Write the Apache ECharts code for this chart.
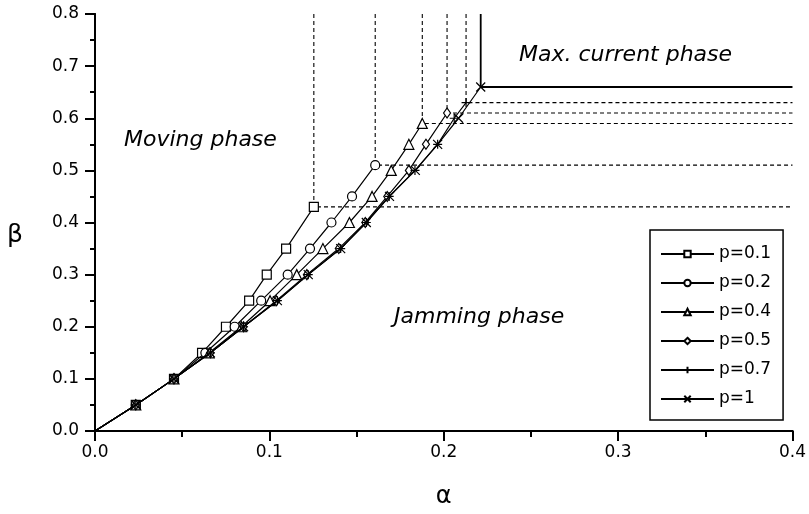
<!DOCTYPE html>
<html lang="en">
<head>
    <meta charset="utf-8">
    <title>Phase diagram</title>
    <script src="https://cdn.jsdelivr.net/npm/echarts@6.0.0/dist/echarts.min.js"></script>
    <style>
        html, body { margin: 0; padding: 0; background: #fff; }
        #chart { width: 809px; height: 514px; }
    </style>
</head>
<body>
    <div id="chart"></div>
    <script>
        // series names
        const names = ['p=0.1', 'p=0.2', 'p=0.4', 'p=0.5', 'p=0.7', 'p=1'];

        // beta / alpha values, one pair of arrays per p
        const betaP01 = [0, 0.05, 0.1, 0.15, 0.2, 0.25, 0.3, 0.35, 0.43];
        const alphaP01 = [0, 0.0234, 0.0453, 0.0614, 0.0751, 0.0884, 0.0985, 0.1096, 0.1255];

        const betaP02 = [0, 0.05, 0.1, 0.15, 0.2, 0.25, 0.3, 0.35, 0.4, 0.45, 0.51];
        const alphaP02 = [0, 0.0234, 0.0453, 0.0633, 0.0801, 0.0953, 0.1105, 0.1233, 0.1356, 0.1474, 0.1607];

        const betaP04 = [0, 0.05, 0.1, 0.15, 0.2, 0.25, 0.3, 0.35, 0.4, 0.45, 0.5, 0.55, 0.59];
        const alphaP04 = [0, 0.0234, 0.0453, 0.0655, 0.0840, 0.1004, 0.1157, 0.1307, 0.1459, 0.1589, 0.1699, 0.1800, 0.1877];

        const betaP05 = [0, 0.05, 0.1, 0.15, 0.2, 0.25, 0.3, 0.35, 0.4, 0.45, 0.5, 0.55, 0.61];
        const alphaP05 = [0, 0.0234, 0.0453, 0.0662, 0.0852, 0.1040, 0.1215, 0.1398, 0.1550, 0.1676, 0.1800, 0.1898, 0.2019];

        const betaP07 = [0, 0.05, 0.1, 0.15, 0.2, 0.25, 0.3, 0.35, 0.4, 0.45, 0.5, 0.55, 0.6, 0.63];
        const alphaP07 = [0, 0.0234, 0.0453, 0.0662, 0.0852, 0.1046, 0.1223, 0.1409, 0.1556, 0.1687, 0.1835, 0.1965, 0.2060, 0.2128];

        const betaP1 = [0, 0.05, 0.1, 0.15, 0.2, 0.25, 0.3, 0.35, 0.4, 0.45, 0.5, 0.55, 0.6, 0.66];
        const alphaP1 = [0, 0.0234, 0.0453, 0.0662, 0.0852, 0.1046, 0.1223, 0.1409, 0.1556, 0.1689, 0.1837, 0.1965, 0.2085, 0.2212];

        const xTicks = [0, 0.1, 0.2, 0.3, 0.4];
        const yTicks = [0, 0.1, 0.2, 0.3, 0.4, 0.5, 0.6, 0.7, 0.8];

        const betas = [betaP01, betaP02, betaP04, betaP05, betaP07, betaP1];
        const alphas = [alphaP01, alphaP02, alphaP04, alphaP05, alphaP07, alphaP1];

        const symbols = [
            'rect',
            'circle',
            'triangle',
            'diamond',
            'path://M5,0L5,10M0,5L10,5',
            'path://M0,0L10,10M10,0L0,10'
        ];
        const symbolSizes = [9, 9, 10, [7, 10], 9, 9];

        const font = 'DejaVu Sans';
        const xMax = xTicks[xTicks.length - 1];
        const yMax = yTicks[yTicks.length - 1];

        const chart = echarts.init(document.getElementById('chart'), null, { renderer: 'canvas' });

        // phase boundaries: from the last point of each curve up to the top and across to the right
        const boundarySeries = names.map((n, i) => {
            const a = alphas[i][alphas[i].length - 1];
            const b = betas[i][betas[i].length - 1];
            const solid = i === names.length - 1;
            return {
                type: 'line',
                data: [[a, yMax], [a, b], [xMax, b]],
                symbol: 'none',
                silent: true,
                z: 1,
                lineStyle: {
                    color: '#000',
                    width: solid ? 1.8 : 1.1,
                    type: solid ? 'solid' : [4, 3]
                }
            };
        });

        const curveSeries = names.map((n, i) => ({
            name: n,
            type: 'line',
            symbol: symbols[i],
            symbolSize: symbolSizes[i],
            z: 3 + i,
            data: alphas[i].map((a, k) => {
                const item = { value: [a, betas[i][k]] };
                if (a === 0) item.symbol = 'none';
                return item;
            }),
            lineStyle: { color: '#000', width: 1.2 },
            itemStyle: { color: '#fff', borderColor: '#000', borderWidth: 1.2 },
            emphasis: { disabled: true }
        }));

        const tickLabel = v => v.toFixed(1);

        const option = {
            animation: false,
            backgroundColor: '#fff',
            grid: { left: 95, right: 12, top: 14, bottom: 77 },
            xAxis: [{
                type: 'value',
                min: xTicks[0],
                max: xMax,
                interval: 0.1,
                name: 'α',
                nameLocation: 'middle',
                nameGap: 54,
                nameTextStyle: { fontFamily: font, fontSize: 24, color: '#000' },
                axisLine: { lineStyle: { color: '#000', width: 2 } },
                axisTick: { length: 10, lineStyle: { color: '#000', width: 2 } },
                minorTick: { show: true, splitNumber: 2, length: 6, lineStyle: { color: '#000', width: 2 } },
                axisLabel: { formatter: tickLabel, fontFamily: font, fontSize: 17, color: '#000', margin: 13 },
                splitLine: { show: false }
            }, {
                type: 'value',
                position: 'top',
                min: xTicks[0],
                max: xMax,
                interval: 0.1,
                axisLine: { lineStyle: { color: '#000', width: 2 } },
                axisTick: { inside: true, length: 9, lineStyle: { color: '#000', width: 2 } },
                minorTick: { show: true, splitNumber: 2, length: 5, lineStyle: { color: '#000', width: 2 } },
                axisLabel: { show: false },
                splitLine: { show: false }
            }],
            yAxis: [{
                type: 'value',
                min: yTicks[0],
                max: yMax,
                interval: 0.1,
                name: 'β',
                nameLocation: 'middle',
                nameRotate: 0,
                nameGap: 72,
                nameTextStyle: { fontFamily: font, fontSize: 25, color: '#000', verticalAlign: 'top' },
                axisLine: { lineStyle: { color: '#000', width: 2 } },
                axisTick: { length: 10, lineStyle: { color: '#000', width: 2 } },
                minorTick: { show: true, splitNumber: 2, length: 5, lineStyle: { color: '#000', width: 2 } },
                axisLabel: { formatter: tickLabel, fontFamily: font, fontSize: 17, color: '#000', margin: 16 },
                splitLine: { show: false }
            }, {
                type: 'value',
                position: 'right',
                min: yTicks[0],
                max: yMax,
                interval: 0.1,
                axisLine: { lineStyle: { color: '#000', width: 2 } },
                axisTick: { inside: true, length: 9, lineStyle: { color: '#000', width: 2 } },
                minorTick: { show: true, splitNumber: 2, length: 5, lineStyle: { color: '#000', width: 2 } },
                axisLabel: { show: false },
                splitLine: { show: false }
            }],
            legend: {
                data: names,
                orient: 'vertical',
                left: 650,
                top: 230,
                padding: [15, 12, 12, 10],
                itemWidth: 53,
                itemHeight: 8,
                itemGap: 11,
                backgroundColor: '#fff',
                borderColor: '#000',
                borderWidth: 1.5,
                borderRadius: 0,
                selectedMode: false,
                textStyle: { fontFamily: font, fontSize: 17, color: '#000', lineHeight: 18 }
            },
            graphic: [
                { type: 'text', left: 124, top: 129, silent: true,
                  style: { text: 'Moving phase', font: 'italic 22px "DejaVu Sans"', fill: '#000' } },
                { type: 'text', left: 394, top: 306, silent: true,
                  style: { text: 'Jamming phase', font: 'italic 22px "DejaVu Sans"', fill: '#000' } },
                { type: 'text', left: 519, top: 44, silent: true,
                  style: { text: 'Max. current phase', font: 'italic 22px "DejaVu Sans"', fill: '#000' } }
            ],
            series: boundarySeries.concat(curveSeries)
        };

        chart.setOption(option);

        window.addEventListener('resize', () => chart.resize());
    </script>
</body>
</html>
